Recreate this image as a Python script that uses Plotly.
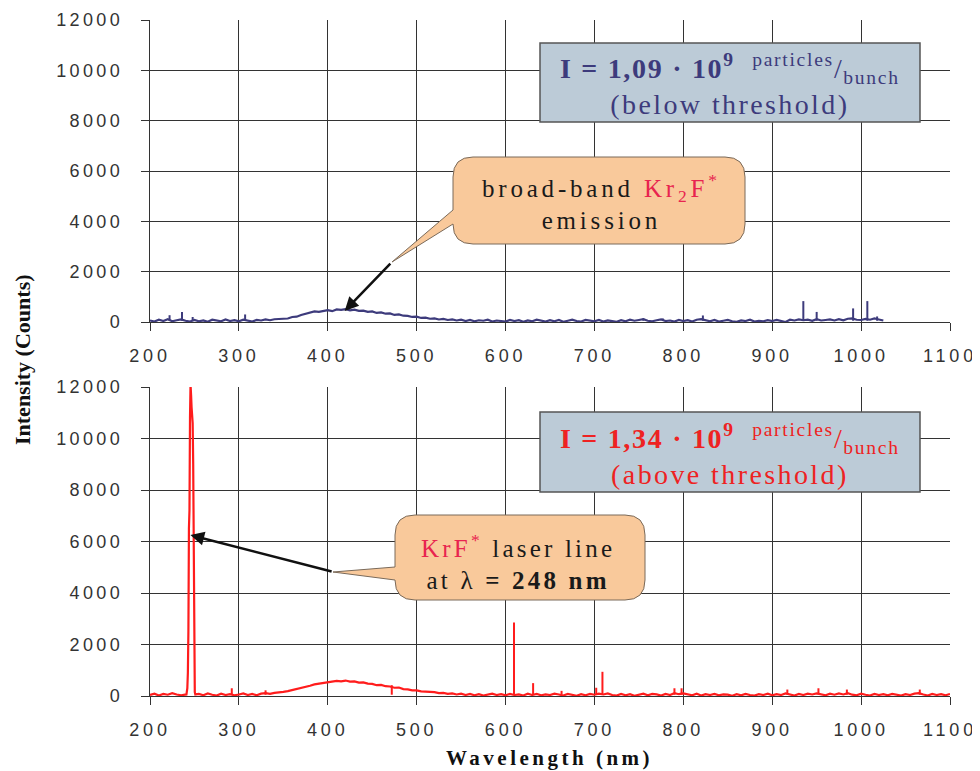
import plotly.graph_objects as go

# ---------------- data ----------------
# Upper spectrum: I = 1.09e9 particles/bunch (below threshold)
top_wavelength = list(range(200, 1030, 5))
top_counts = [
    60, 20, 90, 40, 110, 30, 70, 100, 50, 20,
    80, 30, 60, 10, 90, 50, 30, 100, 40, 70,
    30, 90, 50, 20, 80, 60, 100, 70, 110, 120,
    150, 140, 200, 210, 280, 330, 360, 420, 400, 450,
    470, 430, 500, 480, 510, 460, 490, 440, 450, 400,
    420, 360, 380, 330, 340, 280, 300, 250, 240, 200,
    210, 160, 170, 130, 140, 100, 120, 80, 100, 60,
    90, 40, 80, 30, 70, 50, 90, 20, 60, 40,
    20, 80, 40, 70, 10, 60, 30, 90, 50, 20,
    70, 30, 80, 10, 50, 90, 40, 20, 80, 50,
    30, 80, 20, 60, 40, 10, 70, 30, 90, 50,
    80, 110, 50, 30, 70, 100, 40, 60, 20, 80,
    40, 70, 20, 90, 110, 60, 30, 80, 20, 50,
    80, 30, 10, 60, 40, 90, 20, 50, 30, 70,
    40, 80, 30, 0, 90, 60, 100, 70, 90, 50,
    110, 60, 80, 100, 60, 110, 70, 130, 140, 90,
    80, 120, 90, 140, 100, 60,
]
top_spike_wavelength = [222, 236, 248, 307, 755, 777, 822, 935, 950, 991, 1007, 1018]
top_spike_counts = [270, 400, 200, 300, 140, 140, 260, 830, 400, 540, 830, 220]

# Lower spectrum: I = 1.34e9 particles/bunch (above threshold)
bottom_wavelength_a = list(range(200, 240, 5))
bottom_counts_a = [40, 90, 20, 80, 50, 110, 60, 30]
laser_wavelength = [241, 242, 242.6, 243.2, 243.8, 244.4, 245, 245.6, 246.2,
                    246.8, 247.4, 248, 248.6, 249.2, 249.8, 250.4, 251]
laser_counts = [60, 300, 900, 2500, 6500, 7200, 10800, 12100, 11700,
                11200, 10900, 10600, 9000, 4000, 800, 150, 60]
bottom_wavelength_b = list(range(255, 1105, 5))
bottom_counts_b = [
    80, 30, 100, 50, 20, 90, 40, 70, 30,
    60, 100, 40, 80, 30, 90, 110, 80, 120, 130,
    160, 190, 230, 260, 310, 360, 400, 450, 480, 520,
    540, 560, 590, 570, 600, 560, 570, 520, 530, 480,
    470, 420, 430, 380, 370, 320, 330, 270, 260, 220,
    220, 180, 170, 140, 150, 110, 120, 80, 100, 60,
    90, 40, 80, 30, 70, 20, 60, 90, 40, 70,
    30, 80, 40, 60, 20, 90, 40, 80, 30, 60,
    40, 90, 60, 20, 80, 50, 10, 70, 30, 80,
    50, 90, 60, 100, 40, 20, 80, 30, 70, 10,
    50, 90, 30, 80, 60, 20, 80, 40, 110, 70,
    100, 60, 30, 90, 20, 70, 40, 80, 30, 60,
    50, 10, 70, 30, 80, 40, 20, 70, 40, 90,
    30, 70, 40, 100, 60, 20, 80, 40, 90, 60,
    100, 70, 30, 90, 50, 100, 60, 110, 50, 30,
    90, 50, 20, 80, 40, 70, 30, 80, 50, 20,
    70, 40, 90, 110, 60, 20, 80, 40, 70, 30,
    80,
]
bottom_spike_wavelength = [292, 330, 472, 609.5, 631, 663, 702, 709, 790, 798, 917, 952, 984, 1066]
bottom_spike_counts = [300, 220, 420, 2850, 500, 200, 320, 940, 300, 300, 250, 300, 250, 250]
spike_base = 50

x_tick_values = [200, 300, 400, 500, 600, 700, 800, 900, 1000, 1100]
x_tick_labels = ["200", "300", "400", "500", "600", "700", "800", "900", "1000", "1100"]
y_tick_values = [0, 2000, 4000, 6000, 8000, 10000, 12000]
y_tick_labels = ["0", "2000", "4000", "6000", "8000", "10000", "12000"]

# ---------------- styling ----------------
NAVY = "#3d3b7c"
RED = "#ff1c1c"
GRID = "#333333"
TICKFONT = dict(family="Liberation Sans", size=18, color="#333333")
SERIF = "Liberation Serif"


def spaced(t, s):
    return f'<span style="letter-spacing:{s}px">{t}</span>'


def spikes(ws, hs):
    xs, ys = [], []
    for w, h in zip(ws, hs):
        xs += [w, w, None]
        ys += [spike_base, h, None]
    return xs, ys


bottom_wavelength = bottom_wavelength_a + laser_wavelength + bottom_wavelength_b
bottom_counts = bottom_counts_a + laser_counts + bottom_counts_b

fig = go.Figure()
fig.add_trace(go.Scatter(x=top_wavelength, y=top_counts, mode="lines",
                         line=dict(color=NAVY, width=2.2), xaxis="x", yaxis="y",
                         showlegend=False))
sx, sy = spikes(top_spike_wavelength, top_spike_counts)
fig.add_trace(go.Scatter(x=sx, y=sy, mode="lines", line=dict(color=NAVY, width=2),
                         xaxis="x", yaxis="y", showlegend=False))
fig.add_trace(go.Scatter(x=bottom_wavelength, y=bottom_counts, mode="lines",
                         line=dict(color=RED, width=2.2), xaxis="x2", yaxis="y2",
                         showlegend=False))
sx, sy = spikes(bottom_spike_wavelength, bottom_spike_counts)
fig.add_trace(go.Scatter(x=sx, y=sy, mode="lines", line=dict(color=RED, width=2),
                         xaxis="x2", yaxis="y2", showlegend=False))

# page body has an 8px margin, so the figure is shrunk by that amount
OFF = 8
W, H = 980 - OFF, 771 - OFF
PLOT_L, PLOT_R, PLOT_T, PLOT_B = 150, 950, 20, 696   # screen pixels of the plot area
L_M, T_M = PLOT_L - OFF, PLOT_T - OFF
R_M, B_M = W - (PLOT_R - OFF), H - (PLOT_B - OFF)
PW, PH = PLOT_R - PLOT_L, PLOT_B - PLOT_T


def X(px):
    return (px - PLOT_L) / PW


def Y(py):
    return (PLOT_B - py) / PH


axis_common = dict(
    showgrid=True, gridcolor=GRID, gridwidth=1.4,
    showline=True, linecolor=GRID, linewidth=1.4,
    ticks="outside", ticklen=8, tickcolor=GRID, tickwidth=1.4,
    zeroline=False, tickfont=TICKFONT, fixedrange=True, automargin=False,
)
xaxis_cfg = dict(axis_common, range=[200, 1100], tickvals=x_tick_values,
                 ticktext=[spaced(t, 3.8) for t in x_tick_labels], ticklabelstandoff=9)
yaxis_cfg = dict(axis_common, range=[0, 12000], tickvals=y_tick_values,
                 ticktext=[spaced(t, 3.4) for t in y_tick_labels], ticklabelstandoff=14)

fig.update_layout(
    template="none",
    width=W, height=H,
    margin=dict(l=L_M, r=R_M, t=T_M, b=B_M, autoexpand=False),
    paper_bgcolor="white", plot_bgcolor="white",
    xaxis=dict(xaxis_cfg, anchor="y"),
    yaxis=dict(yaxis_cfg, domain=[Y(322), 1]),
    xaxis2=dict(xaxis_cfg, anchor="y2"),
    yaxis2=dict(yaxis_cfg, domain=[0, Y(387)]),
)


def callout_path(Lp, Tp, Rp, Bp, r, th, tl, tipx, tipy):
    return (f"M {X(Lp + r)},{Y(Tp)} L {X(Rp - r)},{Y(Tp)} "
            f"Q {X(Rp)},{Y(Tp)} {X(Rp)},{Y(Tp + r)} L {X(Rp)},{Y(Bp - r)} "
            f"Q {X(Rp)},{Y(Bp)} {X(Rp - r)},{Y(Bp)} L {X(Lp + r)},{Y(Bp)} "
            f"Q {X(Lp)},{Y(Bp)} {X(Lp)},{Y(Bp - r)} L {X(Lp)},{Y(tl)} "
            f"L {X(tipx)},{Y(tipy)} L {X(Lp)},{Y(th)} L {X(Lp)},{Y(Tp + r)} "
            f"Q {X(Lp)},{Y(Tp)} {X(Lp + r)},{Y(Tp)} Z")


shapes = [
    dict(type="rect", xref="paper", yref="paper", x0=X(540), x1=X(920), y0=Y(122), y1=Y(43),
         fillcolor="#bccbd7", line=dict(color="#555555", width=1.5)),
    dict(type="rect", xref="paper", yref="paper", x0=X(540), x1=X(920), y0=Y(492), y1=Y(412),
         fillcolor="#bccbd7", line=dict(color="#555555", width=1.5)),
    dict(type="path", xref="paper", yref="paper",
         path=callout_path(453, 157, 745, 244, 20, 210, 224, 392, 262),
         fillcolor="#f9c99b", line=dict(color="#7a6a5a", width=1)),
    dict(type="path", xref="paper", yref="paper",
         path=callout_path(395, 515, 645, 600, 20, 567, 580, 333, 572),
         fillcolor="#f9c99b", line=dict(color="#7a6a5a", width=1)),
]

CRIMSON = "#e8244f"
NB = "\u00a0"
annotations = [
    # info boxes
    dict(xref="paper", yref="paper", x=X(730), y=Y(84), xanchor="center", yanchor="middle",
         showarrow=False, font=dict(family=SERIF, size=28, color=NAVY),
         text=spaced(f"<b>I = 1,09 · 10<sup>9</sup></b>{NB}{NB}<sup>particles</sup>/<sub>bunch</sub>", 1.7)
         + "<br>" + spaced("(below threshold)", 2.4)),
    dict(xref="paper", yref="paper", x=X(730), y=Y(454), xanchor="center", yanchor="middle",
         showarrow=False, font=dict(family=SERIF, size=28, color="#ee2222"),
         text=spaced(f"<b>I = 1,34 · 10<sup>9</sup></b>{NB}{NB}<sup>particles</sup>/<sub>bunch</sub>", 1.7)
         + "<br>" + spaced("(above threshold)", 2.4)),
    # callout texts
    dict(xref="paper", yref="paper", x=X(601), y=Y(202), xanchor="center", yanchor="middle",
         showarrow=False, font=dict(family=SERIF, size=25, color="#1a1a1a"),
         text=spaced(f'broad-band <span style="color:{CRIMSON}">Kr<sub>2</sub>F<sup>*</sup></span>', 3.8)
         + "<br>" + spaced("emission", 3.8)),
    dict(xref="paper", yref="paper", x=X(518), y=Y(562), xanchor="center", yanchor="middle",
         showarrow=False, font=dict(family=SERIF, size=25, color="#1a1a1a"),
         text=spaced(f'<span style="color:{CRIMSON}">KrF<sup>*</sup></span> laser line', 3.2)
         + "<br>" + spaced("at λ <b>= 248 nm</b>", 3.2)),
    # arrows
    dict(xref="x", yref="y", axref="x", ayref="y", x=419, y=440, ax=472, ay=2380,
         showarrow=True, arrowhead=2, arrowsize=1.1, arrowwidth=2.5, arrowcolor="#111111", text=""),
    dict(xref="x2", yref="y2", axref="x2", ayref="y2", x=245.5, y=6250, ax=406, ay=4820,
         showarrow=True, arrowhead=2, arrowsize=1.1, arrowwidth=2.5, arrowcolor="#111111", text=""),
    # axis titles
    dict(xref="paper", yref="paper", x=X(22), y=Y(360), xanchor="center", yanchor="middle",
         showarrow=False, textangle=-90,
         font=dict(family=SERIF, size=22, color="#111111"),
         text="<b>Intensity (Counts)</b>"),
    dict(xref="paper", yref="paper", x=X(549), y=Y(758), xanchor="center", yanchor="middle",
         showarrow=False, font=dict(family=SERIF, size=21, color="#111111"),
         text=spaced("<b>Wavelength (nm)</b>", 3.5)),
]

fig.update_layout(shapes=shapes, annotations=annotations)
fig.write_html("out.html")
